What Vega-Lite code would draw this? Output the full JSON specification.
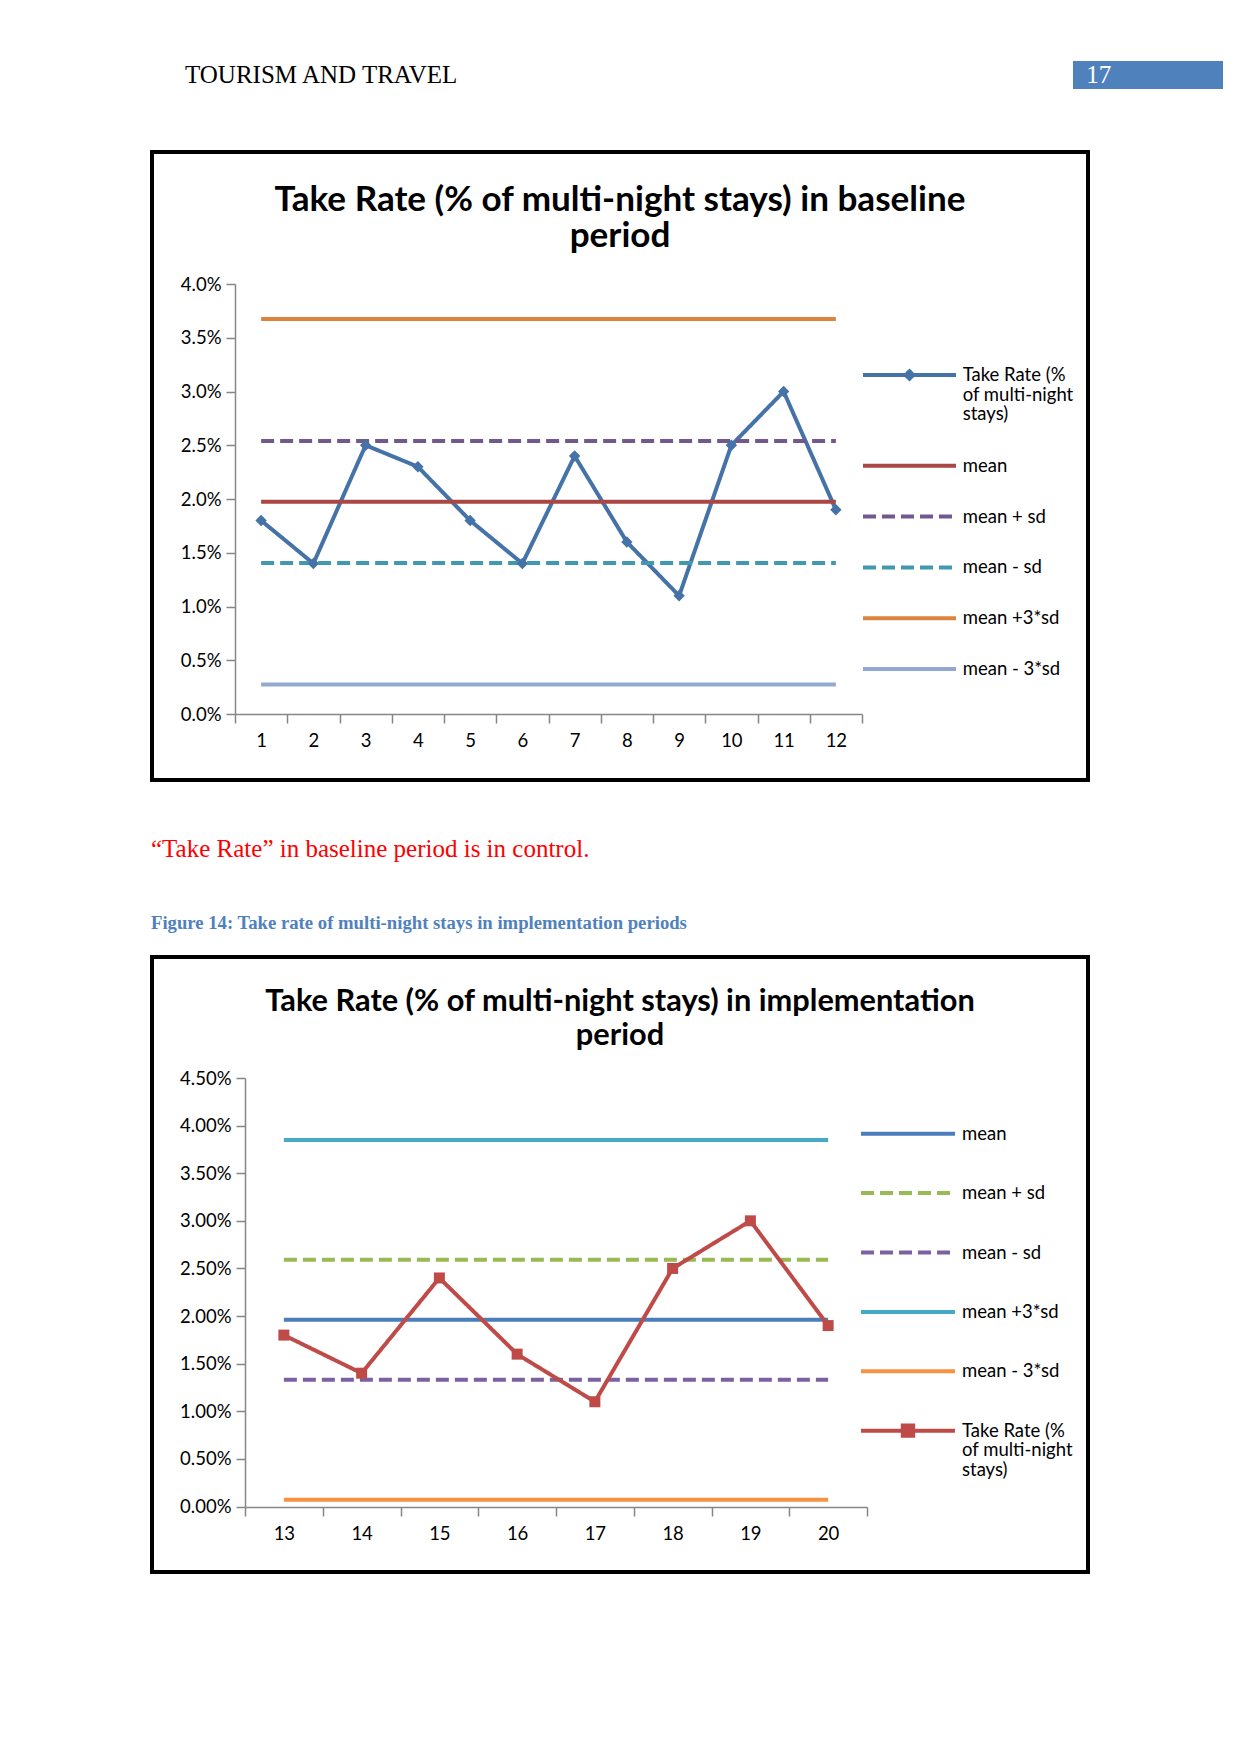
{
  "$schema": "https://vega.github.io/schema/vega-lite/v6.json",
  "background": "white",
  "padding": {"left": 150, "top": 61, "right": 0, "bottom": 0},
  "spacing": 0,
  "config": {
    "view": {"stroke": null},
    "font": "Lato",
    "axis": {"domainColor": "#868686", "domainWidth": 1.5, "tickColor": "#868686", "tickWidth": 1.5, "tickSize": 9, "labelFont": "Lato", "labelFontSize": 18.5, "labelColor": "#000000", "grid": false}
  },
  "resolve": {"scale": {"color": "independent", "strokeDash": "independent"}, "legend": {"color": "independent", "strokeDash": "independent"}},
  "datasets": {
    "baseline": [
      {"period": 1, "series": "Take Rate (% of multi-night stays)", "value": 0.018},
      {"period": 2, "series": "Take Rate (% of multi-night stays)", "value": 0.014},
      {"period": 3, "series": "Take Rate (% of multi-night stays)", "value": 0.025},
      {"period": 4, "series": "Take Rate (% of multi-night stays)", "value": 0.023},
      {"period": 5, "series": "Take Rate (% of multi-night stays)", "value": 0.018},
      {"period": 6, "series": "Take Rate (% of multi-night stays)", "value": 0.014},
      {"period": 7, "series": "Take Rate (% of multi-night stays)", "value": 0.024},
      {"period": 8, "series": "Take Rate (% of multi-night stays)", "value": 0.016},
      {"period": 9, "series": "Take Rate (% of multi-night stays)", "value": 0.011},
      {"period": 10, "series": "Take Rate (% of multi-night stays)", "value": 0.025},
      {"period": 11, "series": "Take Rate (% of multi-night stays)", "value": 0.030},
      {"period": 12, "series": "Take Rate (% of multi-night stays)", "value": 0.019},
      {"period": 1, "series": "mean", "value": 0.01975},
      {"period": 12, "series": "mean", "value": 0.01975},
      {"period": 1, "series": "mean + sd", "value": 0.0254},
      {"period": 12, "series": "mean + sd", "value": 0.0254},
      {"period": 1, "series": "mean - sd", "value": 0.01405},
      {"period": 12, "series": "mean - sd", "value": 0.01405},
      {"period": 1, "series": "mean +3*sd", "value": 0.03674},
      {"period": 12, "series": "mean +3*sd", "value": 0.03674},
      {"period": 1, "series": "mean - 3*sd", "value": 0.00275},
      {"period": 12, "series": "mean - 3*sd", "value": 0.00275}
    ],
    "implementation": [
      {"period": 13, "series": "mean", "value": 0.019625},
      {"period": 20, "series": "mean", "value": 0.019625},
      {"period": 13, "series": "mean + sd", "value": 0.0259},
      {"period": 20, "series": "mean + sd", "value": 0.0259},
      {"period": 13, "series": "mean - sd", "value": 0.0133},
      {"period": 20, "series": "mean - sd", "value": 0.0133},
      {"period": 13, "series": "mean +3*sd", "value": 0.0385},
      {"period": 20, "series": "mean +3*sd", "value": 0.0385},
      {"period": 13, "series": "mean - 3*sd", "value": 0.0007},
      {"period": 20, "series": "mean - 3*sd", "value": 0.0007},
      {"period": 13, "series": "Take Rate (% of multi-night stays)", "value": 0.018},
      {"period": 14, "series": "Take Rate (% of multi-night stays)", "value": 0.014},
      {"period": 15, "series": "Take Rate (% of multi-night stays)", "value": 0.024},
      {"period": 16, "series": "Take Rate (% of multi-night stays)", "value": 0.016},
      {"period": 17, "series": "Take Rate (% of multi-night stays)", "value": 0.011},
      {"period": 18, "series": "Take Rate (% of multi-night stays)", "value": 0.025},
      {"period": 19, "series": "Take Rate (% of multi-night stays)", "value": 0.030},
      {"period": 20, "series": "Take Rate (% of multi-night stays)", "value": 0.019}
    ],
    "empty": []
  },
  "vconcat": [
    {
      "spacing": 0,
      "hconcat": [
        {
          "width": 921, "height": 89,
          "data": {"name": "empty"},
          "mark": {"type": "point", "opacity": 0},
          "encoding": {},
          "title": {"text": "TOURISM AND TRAVEL", "orient": "top", "anchor": "start", "frame": "group", "baseline": "alphabetic", "offset": -47.3, "dx": 33, "font": "Liberation Serif", "fontSize": 25, "fontWeight": "normal", "color": "#000000"}
        },
        {
          "width": 150, "height": 28,
          "view": {"fill": "#4F81BD", "stroke": null},
          "data": {"name": "empty"},
          "mark": {"type": "point", "opacity": 0},
          "encoding": {},
          "title": {"text": "17", "orient": "top", "anchor": "start", "frame": "group", "baseline": "alphabetic", "offset": -47.3, "dx": 13.3, "font": "Liberation Serif", "fontSize": 25, "fontWeight": "normal", "color": "#FFFFFF"}
        }
      ]
    },
    {
      "width": 936, "height": 628,
      "view": {"stroke": "#000000", "strokeWidth": 4, "fill": "#FFFFFF"},
      "title": {"text": ["Take Rate (% of multi-night stays) in baseline", "period"], "orient": "top", "anchor": "middle", "frame": "group", "baseline": "alphabetic", "offset": -130.4, "font": "Lato", "fontSize": 35.1, "fontWeight": "bold", "color": "#000000", "lineHeight": 36.6},
      "data": {"name": "baseline"},
      "encoding": {
        "x": {"field": "period", "type": "ordinal", "scale": {"type": "band", "range": [83, 710], "paddingInner": 0, "paddingOuter": 0}, "axis": {"title": null, "labelAngle": 0, "tickBand": "extent", "offset": -66, "labelPadding": 8}},
        "y": {"field": "value", "type": "quantitative", "scale": {"domain": [0, 0.04], "range": [562, 132], "nice": false, "zero": true}, "axis": {"title": null, "values": [0, 0.005, 0.01, 0.015, 0.02, 0.025, 0.03, 0.035, 0.04], "format": ".1%", "offset": -83, "labelPadding": 5}}
      },
      "layer": [
        {
          "mark": {"type": "line", "strokeWidth": 4, "strokeCap": "butt"},
          "encoding": {
            "color": {"field": "series", "type": "nominal",
              "scale": {"domain": ["Take Rate (% of multi-night stays)", "mean", "mean + sd", "mean - sd", "mean +3*sd", "mean - 3*sd"], "range": ["#4572A7", "#AA4643", "#71588F", "#4198AF", "#DB843D", "#93A9CF"]},
              "legend": {"title": null, "orient": "none", "legendX": 709, "legendY": 205.5, "direction": "vertical", "columns": 1, "symbolType": "stroke", "symbolSize": 961, "symbolStrokeWidth": 4, "symbolOffset": 31, "labelFont": "Lato", "labelFontSize": 18.5, "labelColor": "#000000", "labelBaseline": "top", "labelOffset": 35.7, "labelLimit": 300, "rowPadding": 23.8, "padding": 0,
                "labelExpr": "datum.label === 'Take Rate (% of multi-night stays)' ? ['Take Rate (%', 'of multi-night', 'stays)'] : datum.label",
                "encoding": {
                  "labels": {"dy": {"value": -9}, "lineHeight": {"value": 19.7}},
                  "symbols": {
                    "shape": {"condition": {"test": "datum.value === 'Take Rate (% of multi-night stays)'", "value": "M-3,0L3,0M0,-0.24L0.24,0L0,0.24L-0.24,0Z"}, "value": "M-3,0L3,0"},
                    "fill": {"condition": {"test": "datum.value === 'Take Rate (% of multi-night stays)'", "value": "#4572A7"}, "value": "transparent"}
                  }
                }
              }
            },
            "strokeDash": {"field": "series", "type": "nominal",
              "scale": {"domain": ["Take Rate (% of multi-night stays)", "mean", "mean + sd", "mean - sd", "mean +3*sd", "mean - 3*sd"], "range": [[1, 0], [1, 0], [13, 6], [13, 6], [1, 0], [1, 0]]},
              "legend": {"title": null, "orient": "none", "legendX": 709, "legendY": 205.5, "direction": "vertical", "columns": 1, "symbolType": "stroke", "symbolSize": 961, "symbolStrokeWidth": 4, "symbolOffset": 31, "labelFont": "Lato", "labelFontSize": 18.5, "labelColor": "#000000", "labelBaseline": "top", "labelOffset": 35.7, "labelLimit": 300, "rowPadding": 23.8, "padding": 0,
                "labelExpr": "datum.label === 'Take Rate (% of multi-night stays)' ? ['Take Rate (%', 'of multi-night', 'stays)'] : datum.label",
                "encoding": {
                  "labels": {"dy": {"value": -9}, "lineHeight": {"value": 19.7}},
                  "symbols": {
                    "shape": {"condition": {"test": "datum.value === 'Take Rate (% of multi-night stays)'", "value": "M-3,0L3,0M0,-0.24L0.24,0L0,0.24L-0.24,0Z"}, "value": "M-3,0L3,0"},
                    "fill": {"condition": {"test": "datum.value === 'Take Rate (% of multi-night stays)'", "value": "#4572A7"}, "value": "transparent"}
                  }
                }
              }
            }
          }
        },
        {
          "transform": [{"filter": "datum.series === 'Take Rate (% of multi-night stays)'"}],
          "mark": {"type": "point", "shape": "diamond", "filled": true, "size": 130, "opacity": 1},
          "encoding": {"color": {"field": "series", "type": "nominal", "legend": null}}
        }
      ]
    },
    {
      "width": 936, "height": 100,
      "data": {"name": "empty"},
      "mark": {"type": "point", "opacity": 0},
      "encoding": {},
      "title": {"text": "\u201cTake Rate\u201d in baseline period is in control.", "orient": "top", "anchor": "start", "frame": "group", "baseline": "alphabetic", "offset": -100, "dx": -1, "font": "Liberation Serif", "fontSize": 25, "fontWeight": "normal", "color": "#FF0000"}
    },
    {
      "width": 936, "height": 73,
      "data": {"name": "empty"},
      "mark": {"type": "point", "opacity": 0},
      "encoding": {},
      "title": {"text": "Figure 14: Take rate of multi-night stays in implementation periods", "orient": "top", "anchor": "start", "frame": "group", "baseline": "alphabetic", "offset": -65.7, "dx": -1, "font": "Liberation Serif", "fontSize": 18.7, "fontWeight": "bold", "color": "#4F81BD"}
    },
    {
      "width": 936, "height": 615,
      "view": {"stroke": "#000000", "strokeWidth": 4, "fill": "#FFFFFF"},
      "title": {"text": ["Take Rate (% of multi-night stays) in implementation", "period"], "orient": "top", "anchor": "middle", "frame": "group", "baseline": "alphabetic", "offset": -118.7, "font": "Lato", "fontSize": 30.75, "fontWeight": "bold", "color": "#000000", "lineHeight": 34},
      "data": {"name": "implementation"},
      "encoding": {
        "x": {"field": "period", "type": "ordinal", "scale": {"type": "band", "range": [93, 715], "paddingInner": 0, "paddingOuter": 0}, "axis": {"title": null, "labelAngle": 0, "tickBand": "extent", "offset": -65, "labelPadding": 8}},
        "y": {"field": "value", "type": "quantitative", "scale": {"domain": [0, 0.045], "range": [549.5, 121], "nice": false, "zero": true}, "axis": {"title": null, "values": [0, 0.005, 0.01, 0.015, 0.02, 0.025, 0.03, 0.035, 0.04, 0.045], "format": ".2%", "offset": -93, "labelPadding": 5}}
      },
      "layer": [
        {
          "mark": {"type": "line", "strokeWidth": 4, "strokeCap": "butt"},
          "encoding": {
            "color": {"field": "series", "type": "nominal",
              "scale": {"domain": ["mean", "mean + sd", "mean - sd", "mean +3*sd", "mean - 3*sd", "Take Rate (% of multi-night stays)"], "range": ["#4A7EBB", "#98B954", "#7D60A0", "#46AAC5", "#F69240", "#BE4B48"]},
              "legend": {"title": null, "orient": "none", "legendX": 707, "legendY": 127.7, "direction": "vertical", "columns": 1, "symbolType": "stroke", "symbolSize": 8836, "symbolStrokeWidth": 4, "labelFont": "Lato", "labelFontSize": 18.5, "labelColor": "#000000", "labelBaseline": "top", "labelOffset": 5, "labelLimit": 300, "rowPadding": 0.4, "padding": 0,
                "labelExpr": "datum.label === 'Take Rate (% of multi-night stays)' ? ['Take Rate (%', 'of multi-night', 'stays)'] : datum.label",
                "encoding": {
                  "labels": {"dy": {"value": -9}, "lineHeight": {"value": 19.7}},
                  "symbols": {
                    "shape": {"condition": {"test": "datum.value === 'Take Rate (% of multi-night stays)'", "value": "M-1,0L1,0M-0.11,-0.11L0.11,-0.11L0.11,0.11L-0.11,0.11Z"}, "value": "stroke"},
                    "fill": {"condition": {"test": "datum.value === 'Take Rate (% of multi-night stays)'", "value": "#BE4B48"}, "value": "transparent"}
                  }
                }
              }
            },
            "strokeDash": {"field": "series", "type": "nominal",
              "scale": {"domain": ["mean", "mean + sd", "mean - sd", "mean +3*sd", "mean - 3*sd", "Take Rate (% of multi-night stays)"], "range": [[1, 0], [13, 6], [13, 6], [1, 0], [1, 0], [1, 0]]},
              "legend": {"title": null, "orient": "none", "legendX": 707, "legendY": 127.7, "direction": "vertical", "columns": 1, "symbolType": "stroke", "symbolSize": 8836, "symbolStrokeWidth": 4, "labelFont": "Lato", "labelFontSize": 18.5, "labelColor": "#000000", "labelBaseline": "top", "labelOffset": 5, "labelLimit": 300, "rowPadding": 0.4, "padding": 0,
                "labelExpr": "datum.label === 'Take Rate (% of multi-night stays)' ? ['Take Rate (%', 'of multi-night', 'stays)'] : datum.label",
                "encoding": {
                  "labels": {"dy": {"value": -9}, "lineHeight": {"value": 19.7}},
                  "symbols": {
                    "shape": {"condition": {"test": "datum.value === 'Take Rate (% of multi-night stays)'", "value": "M-1,0L1,0M-0.11,-0.11L0.11,-0.11L0.11,0.11L-0.11,0.11Z"}, "value": "stroke"},
                    "fill": {"condition": {"test": "datum.value === 'Take Rate (% of multi-night stays)'", "value": "#BE4B48"}, "value": "transparent"}
                  }
                }
              }
            }
          }
        },
        {
          "transform": [{"filter": "datum.series === 'Take Rate (% of multi-night stays)'"}],
          "mark": {"type": "point", "shape": "square", "filled": true, "size": 121, "opacity": 1},
          "encoding": {"color": {"field": "series", "type": "nominal", "legend": null}}
        }
      ]
    }
  ]
}
